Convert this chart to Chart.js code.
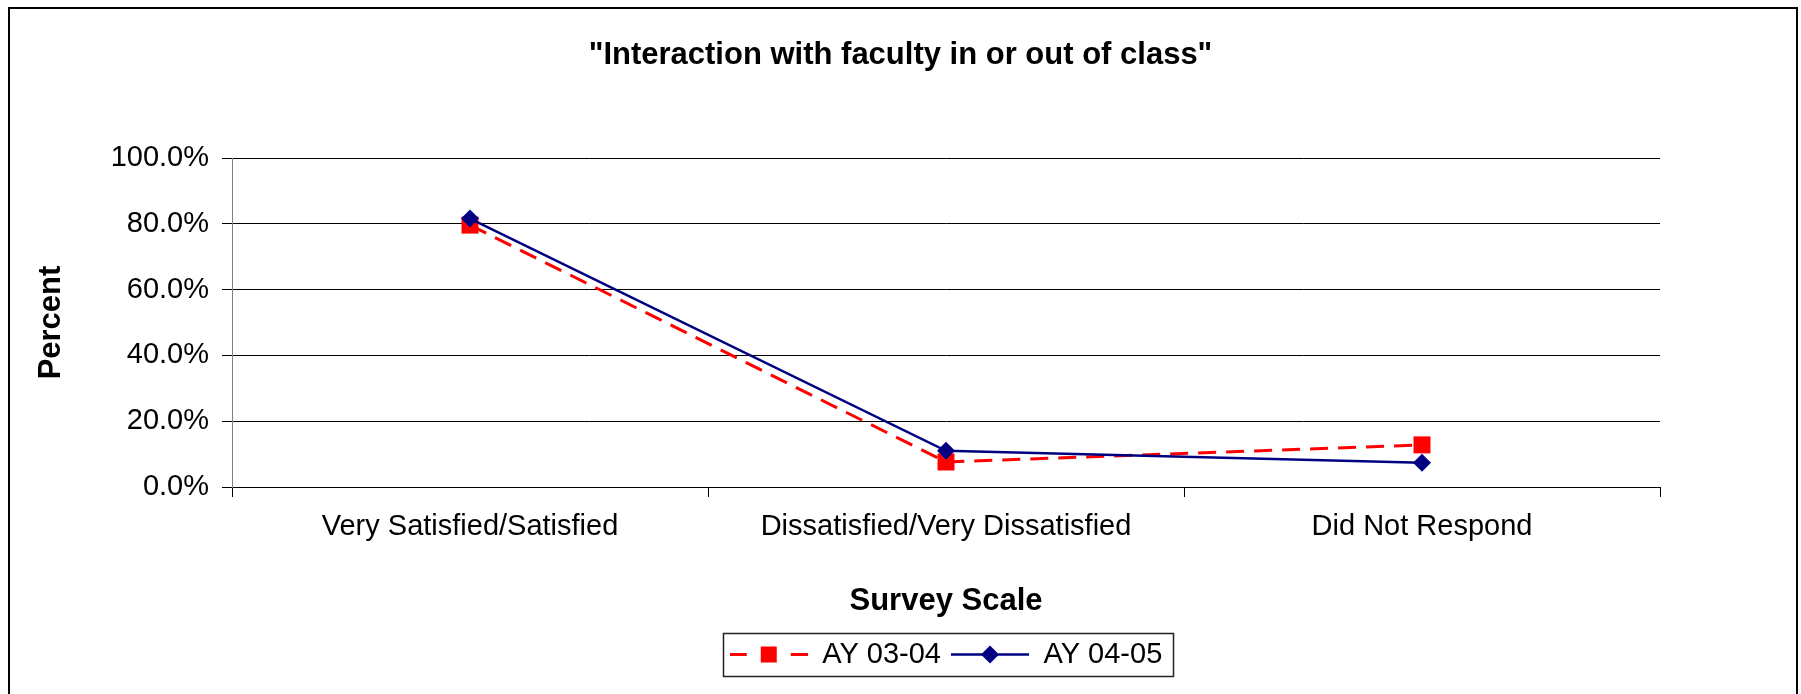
<!DOCTYPE html>
<html>
<head>
<meta charset="utf-8">
<script src="https://cdn.jsdelivr.net/npm/chart.js@4/dist/chart.umd.min.js"></script>
<style>
  body { margin: 0; background: #fff; }
  canvas { display: block; }
</style>
</head>
<body>
<canvas id="myChart" width="1801" height="694"></canvas>
<script>
// Survey data (percent)
const categories = ["Very Satisfied/Satisfied", "Dissatisfied/Very Dissatisfied", "Did Not Respond"];
const ay0304 = [79.6, 7.6, 12.8];
const ay0405 = [81.6, 11.0, 7.4];
const seriesNames = ["AY 03-04", "AY 04-05"];
const yTicks = [0, 20, 40, 60, 80, 100];

Chart.defaults.font.family = "'Liberation Sans', Arial, sans-serif";
Chart.defaults.color = "#000";

// small line+marker images for the legend
function legendIcon(kind) {
  const c = document.createElement("canvas");
  c.width = 78;
  c.height = 29;
  const g = c.getContext("2d");
  if (kind === "red") {
    g.strokeStyle = "#ff0000";
    g.lineWidth = 3;
    g.beginPath();
    g.moveTo(0, 14.5); g.lineTo(17, 14.5);
    g.moveTo(61, 14.5); g.lineTo(78, 14.5);
    g.stroke();
    g.fillStyle = "#ff0000";
    g.fillRect(31, 6.5, 16, 16);
  } else {
    g.strokeStyle = "#000080";
    g.lineWidth = 2.5;
    g.beginPath();
    g.moveTo(0, 14.5); g.lineTo(78, 14.5);
    g.stroke();
    g.fillStyle = "#000080";
    g.beginPath();
    g.moveTo(39, 5.5); g.lineTo(48, 14.5); g.lineTo(39, 23.5); g.lineTo(30, 14.5);
    g.closePath();
    g.fill();
  }
  return c;
}
const icons = [legendIcon("red"), legendIcon("blue")];

// outer frame + legend box
const framePlugin = {
  id: "frame",
  afterDraw(chart) {
    const ctx = chart.ctx;
    ctx.save();
    ctx.strokeStyle = "#000";
    ctx.lineWidth = 2;
    ctx.strokeRect(9, 8, 1788, 700);
    const lg = chart.legend;
    const boxes = lg.legendHitBoxes;
    if (boxes && boxes.length) {
      const last = boxes[boxes.length - 1];
      const left = boxes[0].left - 7;
      const right = last.left + last.width + 10;
      ctx.lineWidth = 1.5;
      ctx.strokeStyle = "#222";
      ctx.strokeRect(Math.round(left) + 0.5, Math.round(lg.top + 3) + 0.5, Math.round(right - left), 43);
    }
    ctx.restore();
  }
};

const ctx = document.getElementById("myChart");
const myChart = new Chart(ctx, {
  type: "line",
  data: {
    labels: categories,
    datasets: [
      {
        label: seriesNames[0],
        data: ay0304,
        borderColor: "#ff0000",
        backgroundColor: "#ff0000",
        borderWidth: 3,
        borderDash: [18, 10],
        pointStyle: "rect",
        pointRadius: 12,
        pointBorderWidth: 0,
        pointBackgroundColor: "#ff0000",
        tension: 0,
        order: 1,
      },
      {
        label: seriesNames[1],
        data: ay0405,
        borderColor: "#000080",
        backgroundColor: "#000080",
        borderWidth: 2.5,
        pointStyle: "rectRot",
        pointRadius: 9,
        pointBorderWidth: 0,
        pointBackgroundColor: "#000080",
        tension: 0,
        order: 0,
      },
    ],
  },
  options: {
    responsive: false,
    animation: false,
    devicePixelRatio: 1,
    layout: {
      padding: { left: 0, right: 0, top: 0, bottom: 15 },
    },
    plugins: {
      title: {
        display: true,
        text: "\"Interaction with faculty in or out of class\"",
        font: { size: 31, weight: "bold" },
        padding: { top: 36.5, bottom: 84.3 },
        color: "#000",
      },
      legend: {
        position: "bottom",
        fullSize: false,
        labels: {
          usePointStyle: true,
          pointStyleWidth: 78,
          padding: 10,
          font: { size: 29 },
          color: "#000",
          generateLabels(chart) {
            return chart.data.datasets.map((ds, i) => ({
              text: ds.label,
              pointStyle: icons[i],
              fillStyle: ds.borderColor,
              strokeStyle: ds.borderColor,
              lineWidth: 0,
              datasetIndex: i,
              hidden: false,
            }));
          },
        },
      },
      tooltip: { enabled: false },
    },
    scales: {
      x: {
        offset: true,
        grid: {
          display: true,
          offset: true,
          drawOnChartArea: false,
          drawTicks: true,
          tickLength: 10,
          color: "#000",
        },
        border: { display: true, color: "#000", width: 1 },
        ticks: {
          font: { size: 29 },
          padding: 12.6,
          maxRotation: 0,
          minRotation: 0,
          color: "#000",
        },
        title: {
          display: true,
          text: "Survey Scale",
          font: { size: 31, weight: "bold" },
          padding: { top: 0, bottom: 9.7 },
          color: "#000",
        },
        afterFit(scale) {
          scale.height = 143;
        },
      },
      y: {
        min: 0,
        max: 100,
        grid: {
          color: "#000",
          lineWidth: 1,
          drawTicks: true,
          tickLength: 10,
        },
        border: { display: true, color: "#808080", width: 1 },
        afterBuildTicks(scale) {
          scale.ticks = yTicks.map(v => ({ value: v }));
        },
        ticks: {
          font: { size: 29 },
          padding: 13,
          color: "#000",
          callback: (v) => v.toFixed(1) + "%",
        },
        title: {
          display: true,
          text: "Percent",
          font: { size: 31, weight: "bold" },
          padding: { top: 32.4, bottom: 0 },
          color: "#000",
        },
        afterFit(scale) {
          scale.width = 232;
        },
      },
      // empty right-hand spacer so the title stays centred on the whole canvas
      yRight: {
        position: "right",
        min: 0,
        max: 100,
        grid: { display: false },
        border: { display: false },
        ticks: { display: false },
        afterFit(scale) {
          scale.width = 141;
        },
      },
    },
  },
  plugins: [framePlugin],
});
</script>
</body>
</html>
